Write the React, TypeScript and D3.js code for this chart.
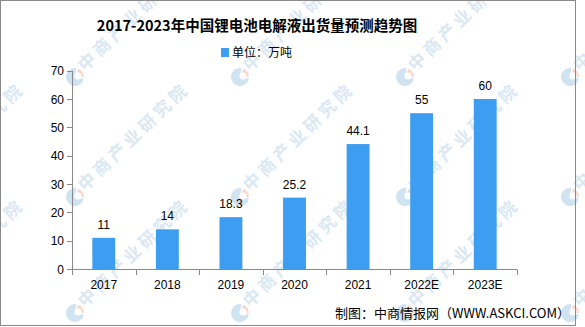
import React from "react";
import * as d3 from "d3";

const categories = ["2017", "2018", "2019", "2020", "2021", "2022E", "2023E"];
const values = [11, 14, 18.3, 25.2, 44.1, 55, 60];
const valueLabels = ["11", "14", "18.3", "25.2", "44.1", "55", "60"];
const yTicks = [0, 10, 20, 30, 40, 50, 60, 70];
const title = "2017-2023年中国锂电池电解液出货量预测趋势图";
const legendLabel = "单位：万吨";
const sourceText = "制图：中商情报网（WWW.ASKCI.COM）";
const watermarkText = "中商产业研究院";
const wmX = [-90, 75, 240, 405, 570];
const wmY = [-41, 77, 197, 313];

const W = 585;
const H = 327;
const BAR = "#3d9df0";
const AXIS = "#8a8a8a";
const CJK = "'Noto Sans CJK SC', 'DejaVu Sans', sans-serif";
const NUM = "'Liberation Sans', Arial, sans-serif";

export default function App() {
  const x = d3
    .scaleBand<string>()
    .domain(categories)
    .range([72, 517])
    .paddingInner(0.64)
    .paddingOuter(0.32);
  const y = d3.scaleLinear().domain([0, 70]).range([269, 70.7]);
  const step = x.step();
  const x0 = 72;

  const blueArc = d3.arc()({
    innerRadius: 0,
    outerRadius: 9,
    startAngle: Math.PI * 0.55,
    endAngle: Math.PI * 2.05,
  } as any) as string;
  const orangeArc = d3.arc()({
    innerRadius: 0,
    outerRadius: 9,
    startAngle: Math.PI * 0.12,
    endAngle: Math.PI * 0.5,
  } as any) as string;

  return (
    <svg
      width={W}
      height={H}
      style={{ position: "absolute", left: 0, top: 0, background: "#fff" }}
    >
      <rect x={0} y={0} width={W} height={H} fill="#fff" />
      {/* watermark */}
      <g>
        {wmX.map((wx) =>
          wmY.map((wy) => (
            <g key={`${wx}-${wy}`} transform={`translate(${wx},${wy})`}>
              <path d={blueArc} fill="#cfe3f1" />
              <path d={orangeArc} fill="#f9d8cc" />
              <circle cx={3} cy={-1} r={3.6} fill="#fff" />
              <text
                transform="translate(10,-5) rotate(-44)"
                fontFamily={CJK}
                fontWeight="bold"
                fontSize={17}
                letterSpacing={4}
                fill="#d9e8f3"
              >
                {watermarkText}
              </text>
            </g>
          ))
        )}
      </g>
      <rect x={0.5} y={0.5} width={575} height={325} fill="none" stroke={AXIS} />

      {/* title */}
      <text
        x={257}
        y={31}
        textAnchor="middle"
        fontFamily={CJK}
        fontWeight="bold"
        fontSize={14.5}
        fill="#000"
      >
        {title}
      </text>

      {/* legend */}
      <rect x={221} y={48} width={8} height={9} fill={BAR} />
      <text x={232} y={57} fontFamily={CJK} fontSize={12} fill="#000">
        {legendLabel}
      </text>

      {/* bars */}
      {categories.map((c, i) => (
        <rect
          key={c}
          x={x(c)}
          y={y(values[i])}
          width={x.bandwidth()}
          height={y(0) - y(values[i])}
          fill={BAR}
        />
      ))}
      {categories.map((c, i) => (
        <text
          key={c + "l"}
          x={(x(c) as number) + x.bandwidth() / 2}
          y={y(values[i]) - 9}
          textAnchor="middle"
          fontFamily={NUM}
          fontSize={12}
          fill="#000"
        >
          {valueLabels[i]}
        </text>
      ))}

      {/* y axis */}
      <line x1={72.5} x2={72.5} y1={y(70)} y2={y(0) + 5} stroke={AXIS} />
      {yTicks.map((t) => (
        <g key={t}>
          <line x1={67} x2={72.5} y1={Math.round(y(t)) + 0.5} y2={Math.round(y(t)) + 0.5} stroke={AXIS} />
          <text
            x={64}
            y={y(t) + 4.5}
            textAnchor="end"
            fontFamily={NUM}
            fontSize={12}
            fill="#000"
          >
            {t}
          </text>
        </g>
      ))}

      {/* x axis */}
      <line x1={72} x2={517} y1={269.5} y2={269.5} stroke={AXIS} />
      {d3.range(categories.length + 1).map((i) => (
        <line
          key={i}
          x1={Math.round(x0 + i * step) + 0.5}
          x2={Math.round(x0 + i * step) + 0.5}
          y1={269.5}
          y2={275}
          stroke={AXIS}
        />
      ))}
      {categories.map((c) => (
        <text
          key={c + "x"}
          x={(x(c) as number) + x.bandwidth() / 2}
          y={289}
          textAnchor="middle"
          fontFamily={NUM}
          fontSize={12}
          fill="#000"
        >
          {c}
        </text>
      ))}

      {/* source */}
      <text
        x={570}
        y={318}
        textAnchor="end"
        fontFamily={CJK}
        fontSize={13}
        fill="#000"
      >
        {sourceText}
      </text>
    </svg>
  );
}
